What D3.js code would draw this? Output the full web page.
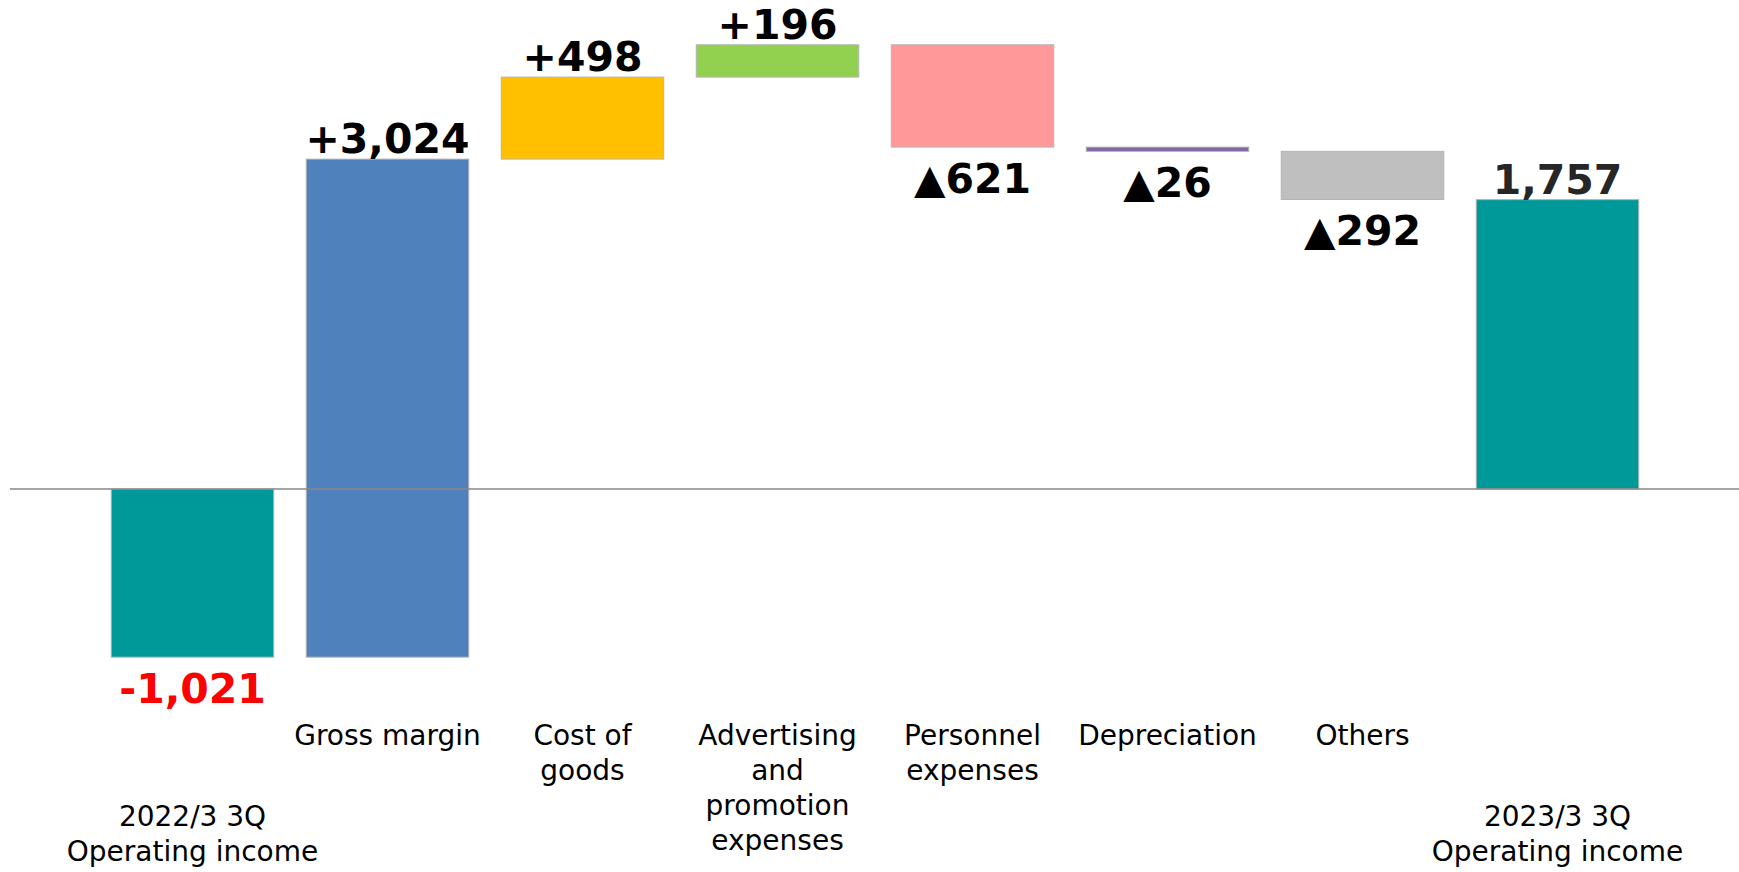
<!DOCTYPE html>
<html lang="en">
<head>
    <meta charset="utf-8">
    <title>Operating income bridge</title>
    <script src="https://d3js.org/d3.v7.min.js"></script>
    <style>
        body {
            margin: 0;
            background: #fff;
            font-family: "DejaVu Sans", Verdana, sans-serif;
        }
        .cat-label {
            font-size: 28px;
            fill: #000;
        }
        .val-label {
            font-size: 41px;
            font-weight: bold;
        }
    </style>
</head>
<body>
<svg id="chart" width="1739" height="872"></svg>

<script>
    // data
    const categories = [
        ["2022/3 3Q", "Operating income"],
        ["Gross margin"],
        ["Cost of", "goods"],
        ["Advertising", "and", "promotion", "expenses"],
        ["Personnel", "expenses"],
        ["Depreciation"],
        ["Others"],
        ["2023/3 3Q", "Operating income"]
    ];
    const values = [-1021, 3024, 498, 196, -621, -26, -292, 1757];
    const isTotal = [true, false, false, false, false, false, false, true];
    const valueLabels = ["-1,021", "+3,024", "+498", "+196", "▲621", "▲26", "▲292", "1,757"];

    const barColors = ["#009999", "#4f81bd", "#ffc000", "#92d050", "#ff9999", "#8064a2", "#bfbfbf", "#009999"];
    const labelColors = ["#ff0000", "#000", "#000", "#000", "#000", "#000", "#000", "#262626"];

    const svg = d3.select("#chart");

    const x = d3.scaleBand()
        .domain(d3.range(values.length))
        .range([95, 1655])
        .paddingInner(1 / 6)
        .paddingOuter(1 / 12);

    const y = d3.scaleLinear()
        .domain([-2000, 3000])
        .range([818.4, -5.1]);

    // running totals for the waterfall
    let running = 0;
    const bars = values.map((v, i) => {
        let start, end;
        if (isTotal[i]) {
            start = 0;
            end = v;
            running = v;
        } else {
            start = running;
            end = running + v;
            running = end;
        }
        return {i: i, lo: Math.min(start, end), hi: Math.max(start, end), value: v};
    });

    svg.selectAll("rect.bar")
        .data(bars)
        .enter()
        .append("rect")
        .attr("class", "bar")
        .attr("x", d => x(d.i))
        .attr("width", x.bandwidth())
        .attr("y", d => y(d.hi))
        .attr("height", d => y(d.lo) - y(d.hi))
        .attr("fill", d => barColors[d.i])
        .attr("stroke", "#b4b4b4")
        .attr("stroke-width", 1);

    // zero line, drawn over the bars
    svg.append("line")
        .attr("x1", 10)
        .attr("x2", 1739)
        .attr("y1", y(0))
        .attr("y2", y(0))
        .attr("stroke", "#888")
        .attr("stroke-width", 1.5);

    // value labels: above rising bars, below falling ones
    svg.selectAll("text.val-label")
        .data(bars)
        .enter()
        .append("text")
        .attr("class", "val-label")
        .attr("text-anchor", "middle")
        .attr("x", d => x(d.i) + x.bandwidth() / 2)
        .attr("y", d => d.value >= 0 ? y(d.hi) - 6 : y(d.lo) + 46)
        .attr("fill", d => labelColors[d.i])
        .text(d => valueLabels[d.i]);

    // category labels
    const catGroups = svg.selectAll("text.cat-label")
        .data(categories)
        .enter()
        .append("text")
        .attr("class", "cat-label")
        .attr("text-anchor", "middle")
        .attr("transform", (d, i) => `translate(${x(i) + x.bandwidth() / 2},${isTotal[i] ? 826 : 745})`);

    catGroups.selectAll("tspan")
        .data(d => d)
        .enter()
        .append("tspan")
        .attr("x", 0)
        .attr("y", (d, j) => j * 35)
        .text(d => d);
</script>
</body>
</html>
